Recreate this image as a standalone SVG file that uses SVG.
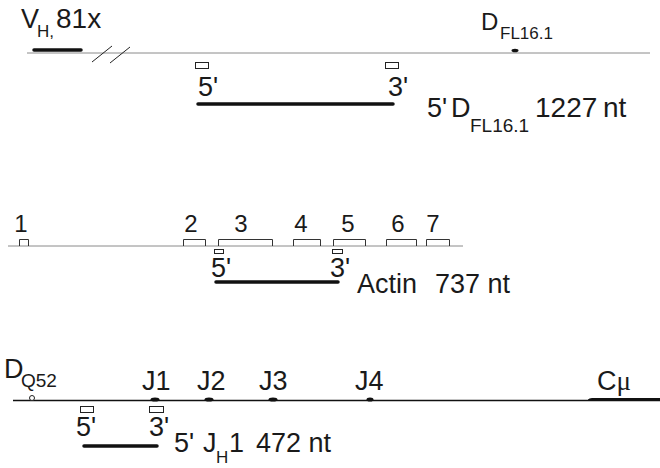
<svg xmlns="http://www.w3.org/2000/svg" width="660" height="468" viewBox="0 0 660 468">
<style>
text{font-family:"Liberation Sans",Arial,sans-serif;fill:#1a1a1a}
.big{font-size:27px}
.lab{font-size:24px}
.sub{font-size:17px}
.sub2{font-size:19px}
.gl{stroke:#8a8a8a;stroke-width:1;fill:none}
.bl{stroke:#111;stroke-width:1.3;fill:none}
.thick{stroke:#111;stroke-width:3.5;stroke-linecap:round;fill:none}
.primer{fill:#fff;stroke:#222;stroke-width:1}
.exon{fill:none;stroke:#333;stroke-width:1}
.mark{fill:#111}
</style>
<g id="connectors">
<line class="gl" x1="27" y1="53" x2="650" y2="53"/>
<line class="gl" x1="8" y1="246" x2="463" y2="246"/>
<line class="bl" x1="13" y1="400.5" x2="660" y2="400.5"/>
<line stroke="#222" stroke-width="1" x1="92" y1="62" x2="112" y2="46"/>
<line stroke="#222" stroke-width="1" x1="110" y1="63" x2="130" y2="47"/>
</g>
<g id="vh">
<line class="thick" x1="34" y1="50" x2="81" y2="50"/>
<text class="big" x="21" y="28">V<tspan class="sub" x="37" y="37">H,</tspan><tspan x="56" y="28" font-size="28">81x</tspan></text>
</g>
<g id="dfl">
<ellipse class="mark" cx="515" cy="50.5" rx="3.5" ry="1.8"/>
<text class="lab" x="481" y="30">D<tspan class="sub" x="500" y="39">FL16.1</tspan></text>
</g>
<g id="product1">
<rect class="primer" x="195.5" y="62.5" width="13" height="6"/>
<rect class="primer" x="385.5" y="62.5" width="13" height="6"/>
<text class="big" x="198" y="96">5'</text>
<text class="big" x="388" y="96">3'</text>
<line class="thick" x1="198" y1="104" x2="393" y2="104"/>
<text class="big" x="427" y="117">5'<tspan x="451">D</tspan><tspan class="sub2" x="470" y="132">FL16.1</tspan><tspan x="535" y="117" font-size="28">1227</tspan><tspan x="603" y="117" font-size="28">nt</tspan></text>
</g>
<g id="actin">
<path class="exon" d="M19.5,246V239.5H28.5V246 M183.5,246V239.5H205.5V246 M218.5,246V239.5H272.5V246 M293.5,246V239.5H320.5V246 M333.5,246V239.5H365.5V246 M386.5,246V239.5H416.5V246 M426.5,246V239.5H449.5V246"/>
<g text-anchor="middle">
<text class="lab" x="21" y="232">1</text>
<text class="lab" x="191" y="232">2</text>
<text class="lab" x="241" y="232">3</text>
<text class="lab" x="301" y="232">4</text>
<text class="lab" x="348" y="232">5</text>
<text class="lab" x="398" y="232">6</text>
<text class="lab" x="433" y="232">7</text>
</g>
</g>
<g id="product2">
<rect class="primer" x="214.5" y="249.5" width="9" height="4"/>
<rect class="primer" x="332.5" y="249.5" width="10" height="4"/>
<text class="big" x="211" y="277">5'</text>
<text class="big" x="330" y="277">3'</text>
<line class="thick" x1="216" y1="282" x2="338" y2="282"/>
<text class="big" x="357" y="293">Actin</text>
<text class="big" x="435" y="293">737 nt</text>
</g>
<g id="igh">
<circle cx="32" cy="398" r="2.5" fill="#fff" stroke="#222" stroke-width="1"/>
<text class="big" x="4" y="378">D<tspan class="sub2" x="21" y="387">Q52</tspan></text>
<ellipse class="mark" cx="155" cy="399.5" rx="4.5" ry="2"/>
<ellipse class="mark" cx="209" cy="399.5" rx="4.5" ry="2"/>
<ellipse class="mark" cx="273" cy="399.5" rx="4.5" ry="2"/>
<ellipse class="mark" cx="370" cy="399.5" rx="3.5" ry="2"/>
<text class="big" x="142" y="390">J1</text>
<text class="big" x="197" y="390">J2</text>
<text class="big" x="259" y="390">J3</text>
<text class="big" x="355" y="390">J4</text>
<path d="M588,401V399.5Q589,398 592,398H660V401Z" fill="#111"/>
<text class="big" x="597" y="390">C<tspan font-family="Liberation Serif,serif">μ</tspan></text>
</g>
<g id="product3">
<rect class="primer" x="80.5" y="406.5" width="13" height="6"/>
<rect class="primer" x="149.5" y="406.5" width="14" height="6"/>
<text class="big" x="76" y="436">5'</text>
<text class="big" x="149" y="436">3'</text>
<line class="thick" x1="84" y1="446" x2="157" y2="446"/>
<text class="big" x="174" y="452">5'<tspan x="203">J</tspan><tspan class="sub" x="216" y="463">H</tspan><tspan x="229" y="452">1</tspan><tspan x="256" y="452">472 nt</tspan></text>
</g>
</svg>
